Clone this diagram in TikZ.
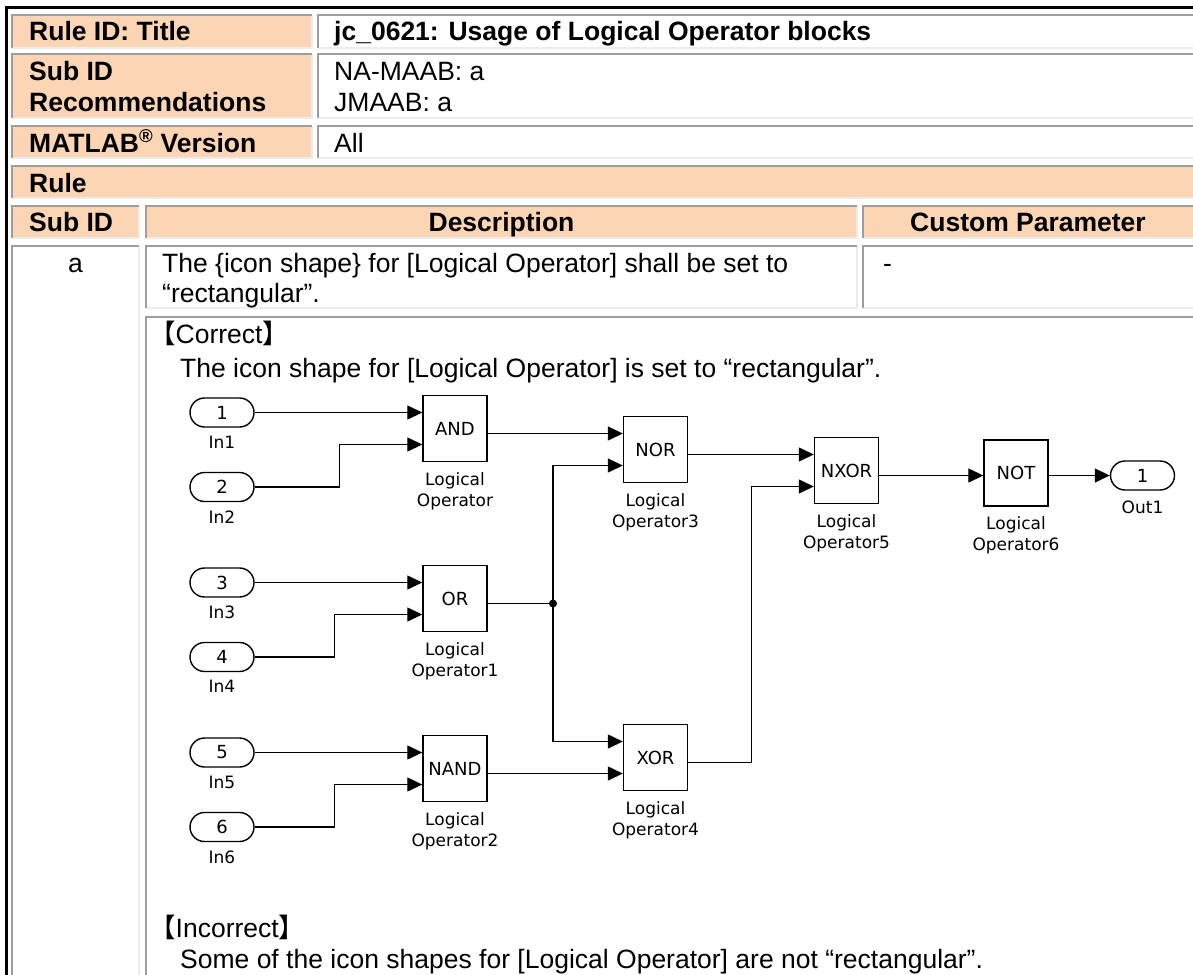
\documentclass[tikz,border=0pt]{standalone}
\usepackage{fontspec}
\setmainfont{Liberation Sans}
\newfontfamily\cjk{Noto Sans CJK JP}
\newfontfamily\simfont{DejaVu Sans}
\usetikzlibrary{arrows.meta,shapes.misc}
\definecolor{peach}{RGB}{251,213,180}
\definecolor{cdark}{RGB}{158,158,158}
\definecolor{clight}{RGB}{236,236,236}
\newcommand\mycell[5]{%
  \fill[#5] (#1,#2) rectangle (#3,#4);
  \draw[clight,line width=2] (#1,#4) -- (#3,#4) -- (#3,#2);
  \draw[cdark,line width=2] (#1,#4) -- (#1,#2) -- (#3,#2);}
\tikzset{
  tb/.style={anchor=base west, inner sep=0, font=\fontsize{26.5}{30.5}\selectfont},
  tbc/.style={anchor=base, inner sep=0, font=\fontsize{26.5}{30.5}\selectfont},
  bold/.append style={font=\fontsize{26.5}{30.5}\selectfont\bfseries},
  blk/.style={draw, line width=1.4, fill=white, minimum width=64, minimum height=66, inner sep=0, font=\simfont\fontsize{18}{20}\selectfont},
  port/.style={draw, rounded rectangle, line width=1.4, fill=white, minimum width=64, minimum height=29, inner sep=0, font=\simfont\fontsize{18}{20}\selectfont},
  lbl/.style={anchor=north, inner sep=0, align=center, font=\simfont\fontsize{17}{21}\selectfont},
  wire/.style={line width=1.3, -{Triangle[length=15pt,width=14pt]}},
  wiren/.style={line width=1.3},
}
\begin{document}
\begin{tikzpicture}[x=1pt,y=-1pt]
\useasboundingbox (0,0) rectangle (1193,974);
\clip (0,0) rectangle (1193,974);
\fill[white] (0,0) rectangle (1193,974);
% table cells
\mycell{12}{15}{312}{48}{peach}
\mycell{318}{15}{1197}{48}{white}
\mycell{12}{54}{312}{118}{peach}
\mycell{318}{54}{1197}{118}{white}
\mycell{12}{126}{312}{158}{peach}
\mycell{318}{126}{1197}{158}{white}
\mycell{12}{166}{1197}{198}{peach}
\mycell{12}{206}{139}{238}{peach}
\mycell{146}{206}{857}{238}{peach}
\mycell{863}{206}{1197}{238}{peach}
\mycell{12}{246}{139}{990}{white}
\mycell{146}{246}{857}{308}{white}
\mycell{863}{246}{1197}{308}{white}
\mycell{146}{317}{1197}{990}{white}
% outer border
\draw[line width=2.5] (6.5,990) -- (6.5,7.3) -- (1200,7.3);
% table texts
\node[tb,bold] (t1) at (29,40.7) {Rule ID: Title};
\node[tb,bold] (t1v) at (334,40.7) {jc\_0621: Usage of Logical Operator blocks};
\node[tb,bold] (t2a) at (29,80) {Sub ID};
\node[tb,bold] (t2b) at (29,111) {Recommendations};
\node[tb] (t2c) at (334,80) {NA-MAAB: a};
\node[tb] (t2d) at (334,111) {JMAAB: a};
\node[tb,bold] (t3) at (29,152) {MATLAB\textsuperscript{®} Version};
\node[tb] (t3v) at (334,152) {All};
\node[tb,bold] (t4) at (29,192) {Rule};
\node[tb,bold] (h1) at (29,231) {Sub ID};
\node[tbc,bold] (h2) at (501.5,231) {Description};
\node[tbc,bold] (h3) at (1028,231) {Custom Parameter};
\node[tbc] (sa) at (75.5,272) {a};
\node[tb] (d1) at (162,272) {The \{icon shape\} for [Logical Operator] shall be set to};
\node[tb] (d2) at (162,302) {“rectangular”.};
\node[tb] (cp) at (883,272) {-};
\node[tb] (c1) at (149,343) {{\cjk 【}Correct{\cjk 】}};
\node[tb] (c2) at (180,377) {The icon shape for [Logical Operator] is set to “rectangular”.};
\node[tb] (i1) at (149,937) {{\cjk 【}Incorrect{\cjk 】}};
\node[tb] (i2) at (180,968) {Some of the icon shapes for [Logical Operator] are not “rectangular”.};
% diagram blocks
\node[port] (in1) at (222,412.5) {1};
\node[port] (in2) at (222,487) {2};
\node[port] (in3) at (222,582.5) {3};
\node[port] (in4) at (222,657) {4};
\node[port] (in5) at (222,752.5) {5};
\node[port] (in6) at (222,827) {6};
\foreach \n in {1,...,6} {\node[lbl] (in\n l) at ([yshift=-8]in\n.south) {In\n};}
\node[blk] (and) at (455,428.5) {AND};
\node[blk] (or) at (455,598.5) {OR};
\node[blk] (nand) at (455,768.5) {NAND};
\node[blk] (nor) at (655.5,449.5) {NOR};
\node[blk] (xor) at (655.5,757.5) {XOR};
\node[blk] (nxor) at (846.5,470.5) {NXOR};
\node[blk] (not) at (1016,473) {NOT};
\node[port] (out1) at (1142.5,475.5) {1};
\node[lbl] (out1l) at ([yshift=-10]out1.south) {Out1};
\node[lbl] (andl) at ([yshift=-10]and.south) {Logical\\Operator};
\node[lbl] (orl) at ([yshift=-10]or.south) {Logical\\Operator1};
\node[lbl] (nandl) at ([yshift=-10]nand.south) {Logical\\Operator2};
\node[lbl] (norl) at ([yshift=-10]nor.south) {Logical\\Operator3};
\node[lbl] (xorl) at ([yshift=-10]xor.south) {Logical\\Operator4};
\node[lbl] (nxorl) at ([yshift=-10]nxor.south) {Logical\\Operator5};
\node[lbl] (notl) at ([yshift=-10]not.south) {Logical\\Operator6};
% wires
\draw[wire] (in1.east) -- ([yshift=16]and.west);
\draw[wire] (in2.east) -- ++(85,0) |- ([yshift=-16]and.west);
\draw[wire] (in3.east) -- ([yshift=16]or.west);
\draw[wire] (in4.east) -- ++(80,0) |- ([yshift=-16]or.west);
\draw[wire] (in5.east) -- ([yshift=16]nand.west);
\draw[wire] (in6.east) -- ++(80,0) |- ([yshift=-16]nand.west);
\draw[wire] ([yshift=-5]and.east) -- ([yshift=16]nor.west);
\coordinate (j) at (553,603.5);
\draw[wiren] ([yshift=-5]or.east) -- (j);
\draw[wire] (j) |- ([yshift=-16]nor.west);
\draw[wire] (j) |- ([yshift=16]xor.west);
\fill (j) circle (4);
\draw[wire] ([yshift=-5]nand.east) -- ([yshift=-16]xor.west);
\draw[wire] ([yshift=-5]nor.east) -- ([yshift=16]nxor.west);
\draw[wire] ([yshift=-5]xor.east) -- ++(63,0) |- ([yshift=-16]nxor.west);
\draw[wire] ([yshift=-5]nxor.east) -- ([yshift=-2.5]not.west);
\draw[wire] ([yshift=-2.5]not.east) -- (out1.west);
\end{tikzpicture}
\end{document}
